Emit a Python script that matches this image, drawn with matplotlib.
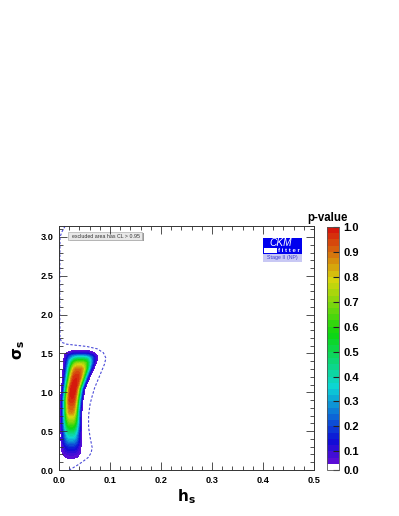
import numpy as np
import matplotlib
matplotlib.use("Agg")
import matplotlib.pyplot as plt
from matplotlib.colors import ListedColormap, BoundaryNorm, hsv_to_rgb
from matplotlib.ticker import MultipleLocator, FormatStrFormatter
from matplotlib.patches import Rectangle

plt.rcParams['font.family'] = ['Liberation Sans', 'DejaVu Sans']

# ---- data ----
# ridge of the p-value distribution (sigma_s knots)
ridge_sigma = [0.00, 0.12, 0.15, 0.20, 0.30, 0.45, 0.60, 0.75, 0.90, 1.05, 1.20, 1.30, 1.38, 1.45, 1.50, 1.55, 1.70]
ridge_pmax  = [0.00, 0.03, 0.05, 0.08, 0.17, 0.40, 0.66, 0.88, 0.97, 1.00, 0.97, 0.90, 0.72, 0.40, 0.13, 0.03, 0.00]
ridge_h     = [0.024, 0.024, 0.024, 0.024, 0.024, 0.024, 0.024, 0.024, 0.025, 0.028, 0.034, 0.038, 0.041, 0.043, 0.042, 0.042, 0.042]
ridge_width = [0.016, 0.016, 0.016, 0.0163, 0.0141, 0.0124, 0.0122, 0.0117, 0.0122, 0.0127, 0.0149, 0.0167, 0.0183, 0.0205, 0.0226, 0.023, 0.023]

# dashed contour
dash_h = [0.012, 0.006, 0.002, 0.0015, 0.0015, 0.002, 0.005, 0.015, 0.035, 0.055, 0.075, 0.087, 0.092,
          0.089, 0.084, 0.077, 0.070, 0.065, 0.061, 0.058, 0.058, 0.061, 0.065, 0.063, 0.057, 0.047,
          0.038, 0.028, 0.020]
dash_s = [3.14, 3.07, 3.0, 2.5, 2.0, 1.7, 1.645, 1.62, 1.605, 1.59, 1.56, 1.51, 1.44,
          1.36, 1.28, 1.17, 1.06, 0.95, 0.85, 0.70, 0.55, 0.42, 0.29, 0.22, 0.16, 0.11,
          0.07, 0.03, 0.0]

cbar_ticks = [0.0, 0.1, 0.2, 0.3, 0.4, 0.5, 0.6, 0.7, 0.8, 0.9, 1.0]

# ---- build p-value field ----
hh = np.linspace(0.0, 0.14, 400)
ss = np.linspace(0.0, np.pi, 500)
H, S = np.meshgrid(hh, ss)
P = np.interp(S, ridge_sigma, ridge_pmax)
C = np.interp(S, ridge_sigma, ridge_h)
W = np.interp(S, ridge_sigma, ridge_width)
pval = P * np.exp(-0.5 * (np.abs(H - C) / W) ** 3)

# colour levels
levels = np.concatenate([[0.0], np.arange(0.05, 1.0001, 0.025)])
ncol = len(levels) - 1
cols = [(1, 1, 1)]
for i in range(1, ncol):
    mid = 0.5 * (levels[i] + levels[i + 1])
    hue = 0.74 * (1 - (mid - 0.05) / 0.95)
    cols.append(tuple(hsv_to_rgb([hue, 0.94, 0.84])))
cmap = ListedColormap(cols)
norm = BoundaryNorm(levels, ncol)

fig = plt.figure(figsize=(3.99, 5.16), dpi=100)
ax = fig.add_axes([59/399, 1-470/516, 255/399, 244/516])
cf = ax.contourf(H, S, pval, levels=levels, cmap=cmap, norm=norm)
ax.plot(dash_h, dash_s, ls=(0, (2.2, 1.6)), color='#4a4ad8', lw=0.8, clip_on=False)

ax.set_xlim(0, 0.5)
ax.set_ylim(0, np.pi)
ax.xaxis.set_major_locator(MultipleLocator(0.1))
ax.xaxis.set_minor_locator(MultipleLocator(0.02))
ax.yaxis.set_major_locator(MultipleLocator(0.5))
ax.yaxis.set_minor_locator(MultipleLocator(0.1))
ax.xaxis.set_major_formatter(FormatStrFormatter('%.1f'))
ax.yaxis.set_major_formatter(FormatStrFormatter('%.1f'))
ax.tick_params(which='both', direction='in', top=True, right=True, width=0.6, color='#333333')
ax.tick_params(which='major', length=6, labelsize=6.6, pad=4)
ax.tick_params(which='minor', length=3)
for lab in ax.get_xticklabels() + ax.get_yticklabels():
    lab.set_fontweight('bold')
for sp in ax.spines.values():
    sp.set_linewidth(0.7)
    sp.set_color('#333333')

ax.text(0.5, -0.11, r'$\mathbf{h_s}$', transform=ax.transAxes, ha='center', va='center', fontsize=11)
ax.text(-0.157, 0.49, r'$\mathbf{\sigma_s}$', transform=ax.transAxes, ha='center', va='center',
        fontsize=11, rotation=90)

# legend box
ax.add_patch(Rectangle((70/399, 1-241.5/516), 74/399, 8.5/516, transform=fig.transFigure,
                       facecolor='#9a9a9a', edgecolor='none', clip_on=False))
ax.add_patch(Rectangle((68/399, 1-240.5/516), 74/399, 8.5/516, transform=fig.transFigure,
                       facecolor='#e8e8e8', edgecolor='#b0b0b0', lw=0.5, clip_on=False))
fig.text(72/399, 1-236.3/516, 'excluded area has CL > 0.95', fontsize=3.8, color='#333333',
         ha='left', va='center')

# CKM logo
fig.patches.append(Rectangle((262.7/399, 1-247.3/516), 39/399, 9.5/516, transform=fig.transFigure,
                             facecolor='#0000ee', edgecolor='none'))
fig.text(281/399, 1-242.6/516, 'CKM', color='white', fontsize=7.3, style='italic',
         ha='center', va='center')
fig.patches.append(Rectangle((262.7/399, 1-253.5/516), 39/399, 6.2/516, transform=fig.transFigure,
                             facecolor='#0000ee', edgecolor='none'))
fig.patches.append(Rectangle((263.5/399, 1-252.8/516), 13/399, 4.6/516, transform=fig.transFigure,
                             facecolor='white', edgecolor='none'))
fig.text(289/399, 1-250.6/516, 'f i t t e r', color='white', fontsize=4.3, fontweight='bold',
         ha='center', va='center')
fig.patches.append(Rectangle((262.7/399, 1-262/516), 39/399, 8/516, transform=fig.transFigure,
                             facecolor='#c8c8f4', edgecolor='none'))
fig.text(282/399, 1-258/516, 'Stage II (NP)', color='#3a3ad0', fontsize=3.8,
         ha='center', va='center')

# colorbar
cax = fig.add_axes([327/399, 1-470/516, 12/399, 243/516])
cb = fig.colorbar(cf, cax=cax, ticks=cbar_ticks)
cb.outline.set_linewidth(0.6)
cb.outline.set_edgecolor('#555555')
cax.yaxis.set_major_formatter(FormatStrFormatter('%.1f'))
cax.tick_params(direction='in', length=4, width=0.8, labelsize=8, pad=3, color='#222222')
cax.minorticks_off()
for lab in cax.get_yticklabels():
    lab.set_fontweight('bold')
fig.text(327/399, 1-217.7/516, 'p-value', fontsize=8.3, fontweight='bold', ha='center', va='center')

fig.savefig('out.png', dpi=100)
